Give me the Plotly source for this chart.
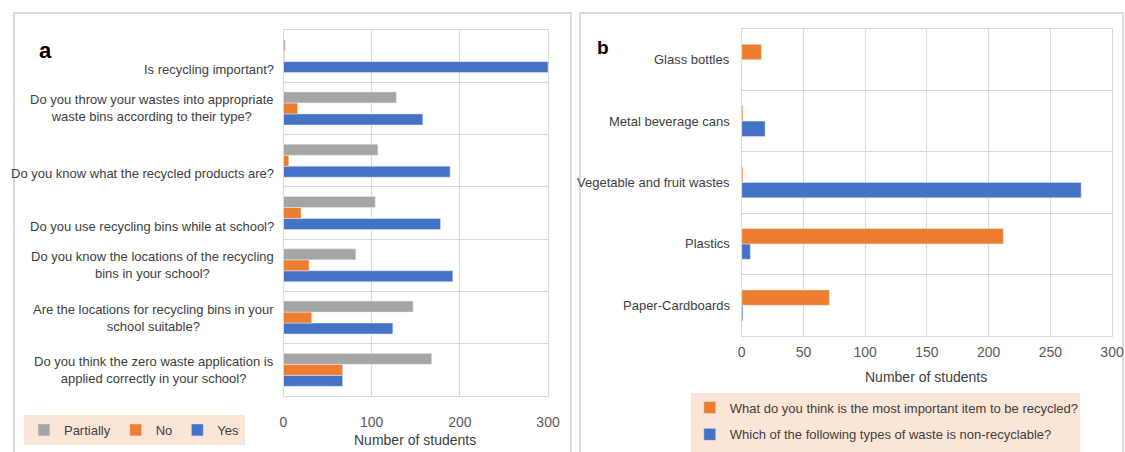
import plotly.graph_objects as go

W, H = 1125, 452          # target picture size (coordinates below are in this frame)
FIG_W = 1139              # figure width (compensates the horizontal squeeze of the capture)

# ---------------- data: panel a ----------------
questions_a = [
    "Is recycling important?",
    "Do you throw your wastes into appropriate<br>waste bins according to their type?",
    "Do you know what the recycled products are?",
    "Do you use recycling bins while at school?",
    "Do you know the locations of the recycling<br>bins in your school?",
    "Are the locations for recycling bins in your<br>school suitable?",
    "Do you think the zero waste application is<br>applied correctly in your school?",
]
yes_a = [300, 158, 189, 178, 192, 124, 67]
no_a = [1, 16, 6, 20, 29, 32, 67]
partially_a = [2, 128, 107, 104, 82, 147, 168]

# ---------------- data: panel b ----------------
items_b = ["Glass bottles", "Metal beverage cans", "Vegetable and fruit wastes",
           "Plastics", "Paper-Cardboards"]
important_b = [16, 1, 1, 212, 71]
nonrecyclable_b = [0, 19, 275, 7, 1]

x_ticks_a = [0, 100, 200, 300]
x_ticks_b = [0, 50, 100, 150, 200, 250, 300]

BLUE, ORANGE, GRAY = "#4472C4", "#ED7D31", "#A5A5A5"
FONT = "Liberation Sans, Arial, sans-serif"
TXT = "#404040"
GRID = "#D9D9D9"
PEACH = "#FBE5D6"


def px(x):
    return x / W


def py(y):
    return 1 - y / H


fig = go.Figure()

# panel a traces (bottom to top inside each group: Yes, No, Partially)
fig.add_trace(go.Bar(y=questions_a, x=yes_a, name="Yes", orientation="h",
                     marker_color=BLUE, xaxis="x", yaxis="y", legend="legend",
                     legendrank=3))
fig.add_trace(go.Bar(y=questions_a, x=no_a, name="No", orientation="h",
                     marker_color=ORANGE, xaxis="x", yaxis="y", legend="legend",
                     legendrank=2))
fig.add_trace(go.Bar(y=questions_a, x=partially_a, name="Partially", orientation="h",
                     marker_color=GRAY, xaxis="x", yaxis="y", legend="legend",
                     legendrank=1))

# panel b traces
fig.add_trace(go.Bar(y=items_b, x=nonrecyclable_b,
                     name="Which of the following types of waste is non-recyclable?",
                     orientation="h", marker_color=BLUE, xaxis="x2", yaxis="y2",
                     width=0.25, offset=-0.25, legend="legend2", legendgroup="nr",
                     legendrank=2))
fig.add_trace(go.Bar(y=items_b, x=important_b,
                     name="What do you think is the most important item to be recycled?",
                     orientation="h", marker_color=ORANGE, xaxis="x2", yaxis="y2",
                     width=0.25, offset=0.0, legend="legend2", legendgroup="imp",
                     legendrank=1))

axis_common = dict(gridcolor=GRID, showline=True, linecolor=GRID, mirror=True,
                   zeroline=False)

fig.update_layout(
    width=FIG_W, height=H,
    margin=dict(l=0, r=0, t=0, b=0),
    paper_bgcolor="white", plot_bgcolor="white",
    barmode="group", bargap=0.37, bargroupgap=0,
    font=dict(family=FONT, color=TXT, size=13),
    xaxis=dict(domain=[px(280), px(545)], range=[0, 300], tickvals=x_ticks_a,
               tickfont=dict(size=14, color="#595959", family=FONT),
               ticklabelstandoff=13, anchor="y", **axis_common),
    yaxis=dict(domain=[py(396), py(30)], type="category",
               categoryorder="array", categoryarray=questions_a[::-1],
               tickson="boundaries", showgrid=True, showticklabels=False,
               ticks="", anchor="x", **axis_common),
    xaxis2=dict(domain=[px(739), px(1110)], range=[0, 300], tickvals=x_ticks_b,
                tickfont=dict(size=14, color="#595959", family=FONT),
                ticklabelstandoff=3, anchor="y2", **axis_common),
    yaxis2=dict(domain=[py(336), py(29)], type="category",
                categoryorder="array", categoryarray=items_b[::-1],
                tickson="boundaries", showgrid=True, showticklabels=False,
                ticks="", anchor="x2", **axis_common),
    legend=dict(orientation="h", x=px(20), y=py(430), xanchor="left", yanchor="middle",
                bgcolor=PEACH, traceorder="normal",
                font=dict(size=13, color=TXT, family=FONT), itemwidth=30),
    legend2=dict(orientation="v", x=px(687), y=py(421), xanchor="left", yanchor="middle",
                 bgcolor="rgba(0,0,0,0)", traceorder="grouped", tracegroupgap=7,
                 font=dict(size=13, color=TXT, family=FONT), itemwidth=30),
    showlegend=True,
)

shapes = [
    # panel frames
    dict(type="rect", xref="paper", yref="paper", x0=px(10), x1=px(568),
         y0=py(H + 5), y1=py(13), line=dict(color="#D0D0D0", width=1.5), layer="below"),
    dict(type="rect", xref="paper", yref="paper", x0=px(577), x1=px(1121),
         y0=py(H + 5), y1=py(13), line=dict(color="#D0D0D0", width=1.5), layer="below"),
    # right legend background
    dict(type="rect", xref="paper", yref="paper", x0=px(688), x1=px(1078),
         y0=py(H + 5), y1=py(393), fillcolor=PEACH, line=dict(width=0), layer="below"),
]
fig.update_layout(shapes=shapes)

annotations = [
    dict(text="<b>a</b>", x=px(42), y=py(50), xref="paper", yref="paper",
         xanchor="center", yanchor="middle", showarrow=False,
         font=dict(size=22, family=FONT, color="black")),
    dict(text="<b>b</b>", x=px(600), y=py(47), xref="paper", yref="paper",
         xanchor="center", yanchor="middle", showarrow=False,
         font=dict(size=19, family=FONT, color="black")),
    dict(text="Number of students", x=px(412), y=py(440), xref="paper", yref="paper",
         xanchor="center", yanchor="middle", showarrow=False,
         font=dict(size=14, family=FONT, color=TXT)),
    dict(text="Number of students", x=px(924), y=py(377), xref="paper", yref="paper",
         xanchor="center", yanchor="middle", showarrow=False,
         font=dict(size=14, family=FONT, color=TXT)),
]
for q in questions_a:
    annotations.append(dict(text=q, x=px(272), y=q, xref="paper", yref="y",
                            xanchor="right", yanchor="middle", align="center",
                            yshift=0 if "<br>" in q else -13, showarrow=False,
                            font=dict(size=13, family=FONT, color=TXT)))
for it in items_b:
    annotations.append(dict(text=it, x=px(729), y=it, xref="paper", yref="y2",
                            xanchor="right", yanchor="middle", align="right",
                            showarrow=False,
                            font=dict(size=13, family=FONT, color=TXT)))
fig.update_layout(annotations=annotations)

page_css = (
    "var s=document.createElement('style');"
    "s.textContent='html,body{margin:0;padding:0;overflow:hidden;}';"
    "document.head.appendChild(s);"
)

fig.write_html(
    "out.html",
    config={"displayModeBar": False},
    post_script=page_css,
)
